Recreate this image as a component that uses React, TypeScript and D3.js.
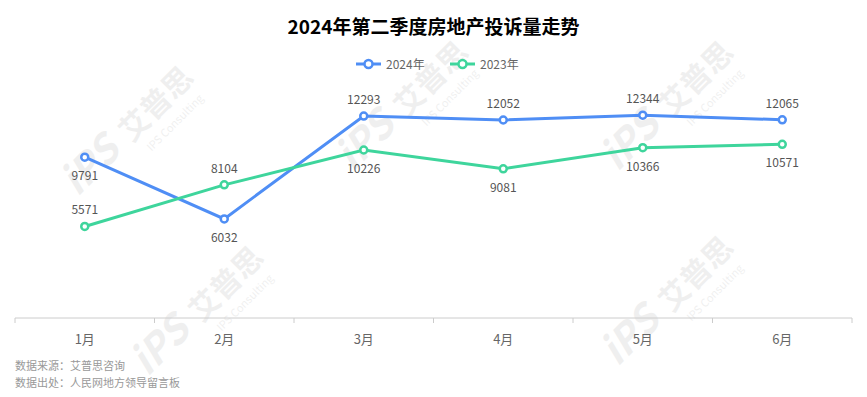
import React from "react";
import * as d3 from "d3";

const months = ["1月", "2月", "3月", "4月", "5月", "6月"];
const values2024 = [9791, 6032, 12293, 12052, 12344, 12065];
const values2023 = [5571, 8104, 10226, 9081, 10366, 10571];
// label placement per point: true = above
const above2024 = [false, false, true, true, true, true];
const above2023 = [true, true, false, false, false, false];

const W = 867;
const H = 397;
const margin = { top: 88, right: 15, bottom: 79, left: 15 };

const watermarks = [
  [100, 175], [375, 150], [640, 150], [170, 355], [640, 345],
];

const App = () => {
  const x = d3.scaleBand<string>().domain(months).range([margin.left, W - margin.right]);
  const y = d3.scaleLinear().domain([0, 14000]).range([H - margin.bottom, margin.top]);
  const cx = (m: string) => (x(m) as number) + x.bandwidth() / 2;

  const line = d3.line<number>().x((_, i) => cx(months[i])).y((d) => y(d));

  const series = [
    { name: "2024年", color: "#4f8ef5", values: values2024, above: above2024 },
    { name: "2023年", color: "#3ed59c", values: values2023, above: above2023 },
  ];

  const font = "'Noto Sans CJK SC', 'Noto Sans', sans-serif";
  const ticks = [...months.map((m) => x(m) as number), W - margin.right];

  return (
    <svg width={W} height={H} style={{ position: "absolute", left: 0, top: 0, fontFamily: font }}>
      <rect width={W} height={H} fill="#fff" />
      {watermarks.map(([wx, wy], i) => (
        <g key={i} transform={`translate(${wx},${wy}) rotate(-45)`} fill="#000" opacity={0.06}>
          <text x={0} y={0} fontSize={40} fontWeight="bold" fontStyle="italic" textAnchor="middle">iPS</text>
          <text x={90} y={0} fontSize={30} fontWeight="bold" textAnchor="middle">艾普思</text>
          <text x={90} y={20} fontSize={11} textAnchor="middle">IPS Consulting</text>
        </g>
      ))}
      <text x={W / 2} y={34} textAnchor="middle" fontSize={19} fontWeight="bold" fill="#000">
        2024年第二季度房地产投诉量走势
      </text>
      {series.map((s, i) => {
        const lx = 356 + i * 94;
        return (
          <g key={s.name} transform={`translate(${lx},64)`}>
            <line x1={0} x2={25} y1={0} y2={0} stroke={s.color} strokeWidth={3} />
            <circle cx={12.5} cy={0} r={4} fill="#fff" stroke={s.color} strokeWidth={2.5} />
            <text x={30} y={4.5} fontSize={12} fill="#666">{s.name}</text>
          </g>
        );
      })}
      <line x1={margin.left} x2={W - margin.right} y1={y(0)} y2={y(0)} stroke="#ccc" />
      {ticks.map((t, i) => (
        <line key={i} x1={t} x2={t} y1={y(0)} y2={y(0) + 5} stroke="#ccc" />
      ))}
      {months.map((m) => (
        <text key={m} x={cx(m)} y={y(0) + 26} textAnchor="middle" fontSize={13} fill="#666">{m}</text>
      ))}
      {series.map((s) => (
        <g key={s.name}>
          <path d={line(s.values) as string} fill="none" stroke={s.color} strokeWidth={3} />
          {s.values.map((v, i) => (
            <circle key={i} cx={cx(months[i])} cy={y(v)} r={3.5} fill="#fff" stroke={s.color} strokeWidth={2.5} />
          ))}
          {s.values.map((v, i) => (
            <text key={"t" + i} x={cx(months[i])} y={s.above[i] ? y(v) - 12 : y(v) + 23}
              textAnchor="middle" fontSize={12} fill="#555">{v}</text>
          ))}
        </g>
      ))}
      <text x={15} y={370} fontSize={11} fill="#999">数据来源：艾普思咨询</text>
      <text x={15} y={387} fontSize={11} fill="#999">数据出处：人民网地方领导留言板</text>
    </svg>
  );
};

export default App;
